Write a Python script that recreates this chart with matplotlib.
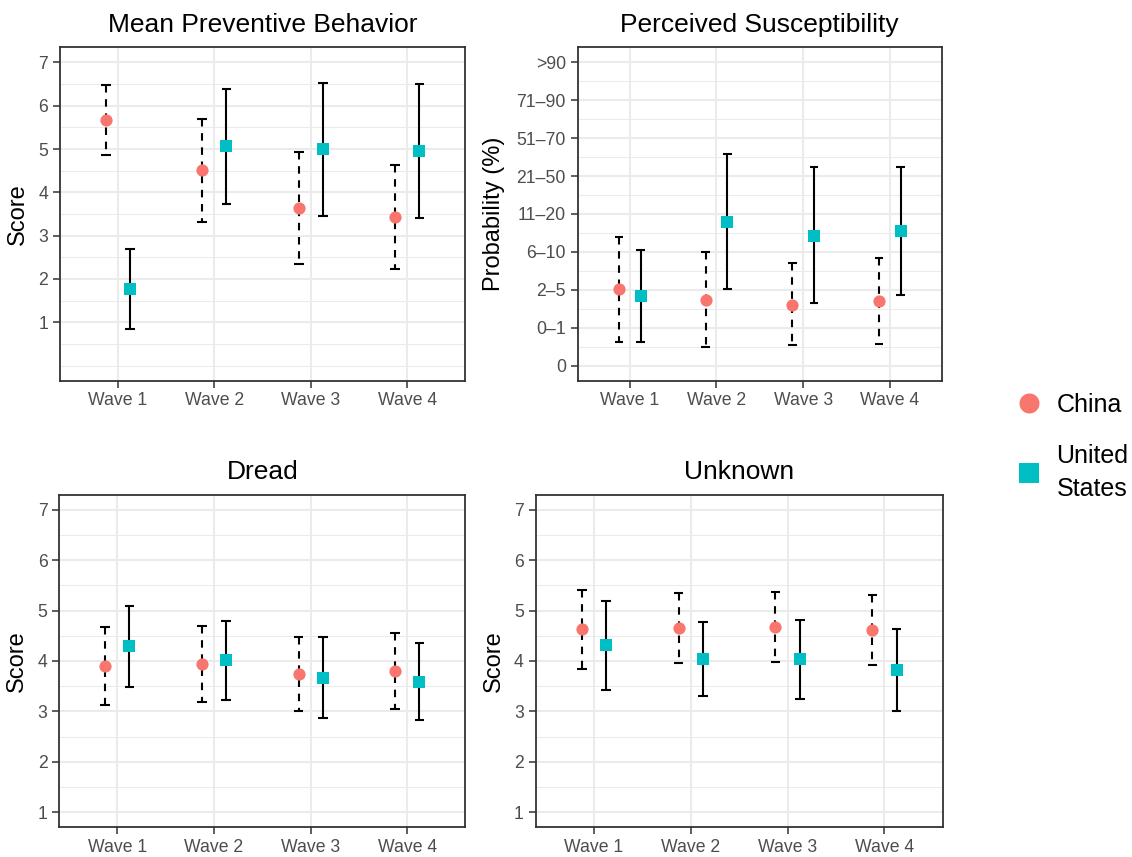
import matplotlib
matplotlib.use("Agg")
import matplotlib.pyplot as plt
from matplotlib.lines import Line2D
import numpy as np

plt.rcParams['font.family'] = ['Liberation Sans', 'DejaVu Sans']

waves = ["Wave 1", "Wave 2", "Wave 3", "Wave 4"]
countries = ["China", "United\nStates"]
colors = ["#F8766D", "#00BFC4"]
markers = ["o", "s"]

# mean preventive behavior
behavior_china = [5.66, 4.51, 3.64, 3.43]
behavior_china_lo = [4.86, 3.32, 2.34, 2.22]
behavior_china_hi = [6.48, 5.70, 4.93, 4.63]
behavior_us = [1.77, 5.06, 5.00, 4.95]
behavior_us_lo = [0.85, 3.73, 3.46, 3.41]
behavior_us_hi = [2.68, 6.39, 6.53, 6.50]

# perceived susceptibility (category index on the probability scale)
suscept_china = [2.02, 1.74, 1.61, 1.70]
suscept_china_lo = [0.63, 0.49, 0.53, 0.56]
suscept_china_hi = [3.39, 3.00, 2.71, 2.85]
suscept_us = [1.84, 3.80, 3.43, 3.54]
suscept_us_lo = [0.63, 2.03, 1.65, 1.85]
suscept_us_hi = [3.06, 5.59, 5.24, 5.24]
prob_labels = ["0", "0\u20131", "2\u20135", "6\u201310", "11\u201320",
               "21\u201350", "51\u201370", "71\u201390", ">90"]

# dread
dread_china = [3.90, 3.94, 3.74, 3.80]
dread_china_lo = [3.13, 3.18, 3.00, 3.05]
dread_china_hi = [4.67, 4.69, 4.48, 4.56]
dread_us = [4.29, 4.01, 3.67, 3.59]
dread_us_lo = [3.48, 3.22, 2.87, 2.82]
dread_us_hi = [5.10, 4.79, 4.48, 4.36]

# unknown
unknown_china = [4.63, 4.65, 4.67, 4.62]
unknown_china_lo = [3.85, 3.96, 3.98, 3.92]
unknown_china_hi = [5.41, 5.34, 5.37, 5.31]
unknown_us = [4.31, 4.03, 4.03, 3.83]
unknown_us_lo = [3.42, 3.30, 3.25, 3.01]
unknown_us_hi = [5.19, 4.77, 4.81, 4.64]

fig = plt.figure(figsize=(11.32, 8.57), dpi=100)

ax1 = fig.add_axes([0.0530, 0.5558, 0.3580, 0.3890])
ax2 = fig.add_axes([0.5103, 0.5558, 0.3218, 0.3890])
ax3 = fig.add_axes([0.0524, 0.0347, 0.3587, 0.3881])
ax4 = fig.add_axes([0.4732, 0.0347, 0.3595, 0.3881])

dodge = 0.125
cap = 0.05
x = np.arange(1, len(waves) + 1)


def draw_panel(ax, title, series, ylabel, label_x):
    # series: list of (mean, lo, hi) for china, us
    for i, (mean, lo, hi) in enumerate(series):
        xs = x + (-dodge if i == 0 else dodge)
        ls = (0, (3.6, 3.2)) if i == 0 else "-"
        for xi, h, l in zip(xs, hi, lo):
            ax.plot([xi, xi], [h, l], color="black", lw=1.5, linestyle=ls,
                    solid_capstyle="butt", zorder=3)
        ax.hlines(hi, xs - cap, xs + cap, color="black", lw=1.5, zorder=3)
        ax.hlines(lo, xs - cap, xs + cap, color="black", lw=1.5, zorder=3)
        ax.plot(xs, mean, linestyle="none", marker=markers[i],
                color=colors[i], markersize=8.8 if i == 0 else 8.2,
                markeredgewidth=0, zorder=4)
    ax.set_xlim(0.4, 4.6)
    ax.set_xticks(x)
    ax.set_xticklabels(waves)
    ax.set_title(title, fontsize=19, pad=11)
    ax.set_ylabel(ylabel, fontsize=17)
    ax.yaxis.set_label_coords(label_x, 0.5)
    ax.grid(True, which="major", color="#EBEBEB", lw=1.45, zorder=0)
    ax.grid(True, which="minor", axis="y", color="#EBEBEB", lw=0.75, zorder=0)
    ax.set_axisbelow(True)
    ax.tick_params(which="major", length=5, width=1.1, color="#333333",
                   labelsize=12.7, labelcolor="#4D4D4D", pad=3.5)
    ax.tick_params(which="minor", length=0)
    for sp in ax.spines.values():
        sp.set_color("#333333")
        sp.set_linewidth(1.3)


draw_panel(ax1, "Mean Preventive Behavior",
           [(behavior_china, behavior_china_lo, behavior_china_hi),
            (behavior_us, behavior_us_lo, behavior_us_hi)],
           "Score", -0.0765)
ax1.set_ylim(-0.35, 7.35)
ax1.set_yticks(range(1, 8))
ax1.set_yticks(np.arange(0, 7.5, 0.5), minor=True)

draw_panel(ax2, "Perceived Susceptibility",
           [(suscept_china, suscept_china_lo, suscept_china_hi),
            (suscept_us, suscept_us_lo, suscept_us_hi)],
           "Probability (%)", -0.20)
ax2.set_ylim(-0.4, 8.4)
ax2.set_yticks(range(len(prob_labels)))
ax2.set_yticklabels(prob_labels)
ax2.set_yticks(np.arange(0.5, 8, 1.0), minor=True)

draw_panel(ax3, "Dread",
           [(dread_china, dread_china_lo, dread_china_hi),
            (dread_us, dread_us_lo, dread_us_hi)],
           "Score", -0.0765)
ax3.set_ylim(0.7, 7.3)
ax3.set_yticks(range(1, 8))
ax3.set_yticks(np.arange(1.5, 7, 1.0), minor=True)

draw_panel(ax4, "Unknown",
           [(unknown_china, unknown_china_lo, unknown_china_hi),
            (unknown_us, unknown_us_lo, unknown_us_hi)],
           "Score", -0.0754)
ax4.set_ylim(0.7, 7.3)
ax4.set_yticks(range(1, 8))
ax4.set_yticks(np.arange(1.5, 7, 1.0), minor=True)

handles = [Line2D([], [], linestyle="none", marker=markers[i], color=colors[i],
                  markersize=14.4 if i == 0 else 13.7, markeredgewidth=0)
           for i in range(2)]
leg = fig.legend(handles, countries, loc="center left",
                 bbox_to_anchor=(0.8986, 0.4785), frameon=False,
                 fontsize=18, handlelength=0.95, handletextpad=0.62,
                 labelspacing=1.08, borderpad=0, borderaxespad=0)
for t in leg.get_texts():
    t.set_linespacing(1.45)

fig.savefig("out.png", dpi=100)
